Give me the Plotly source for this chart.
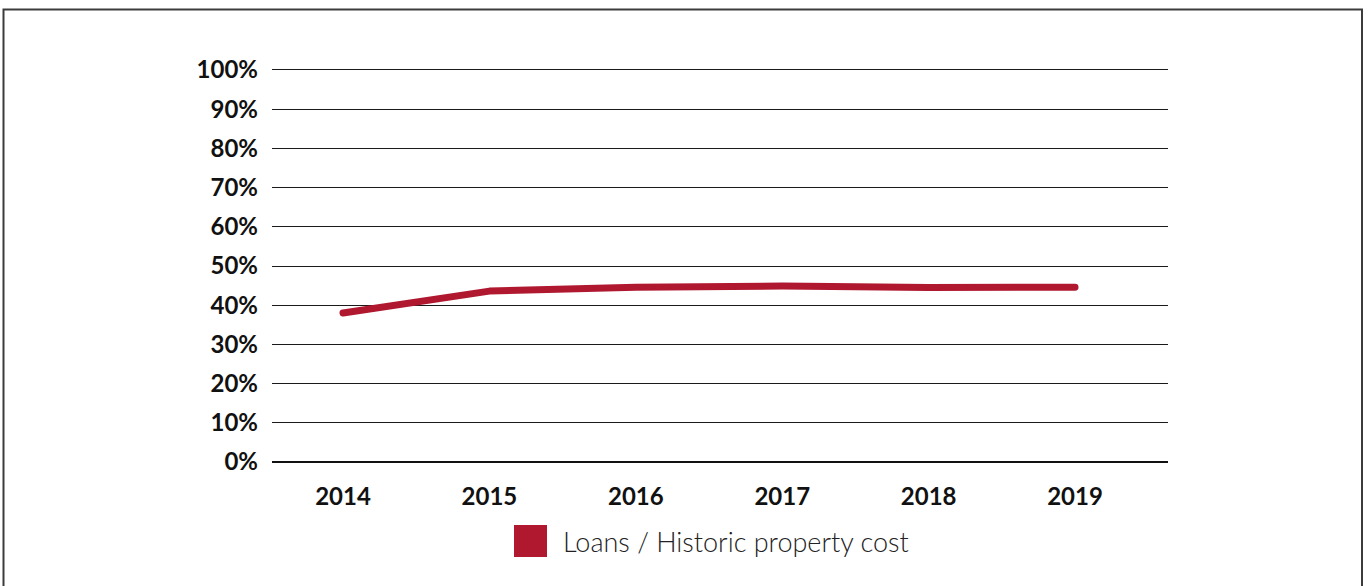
import plotly.graph_objects as go

# Loan-to-cost ratio by year
years = ["2014", "2015", "2016", "2017", "2018", "2019"]
loans_to_cost = [0.380, 0.436, 0.446, 0.449, 0.445, 0.446]
series_name = "Loans / Historic property cost"
y_ticks = [i / 10 for i in range(11)]
y_tick_labels = [f"{i * 10}%" for i in range(11)]

RED = "#B01830"
W, H = 1370, 586
PAD = 0.01                         # headroom so the 0% and 100% lines stay inside
UNIT = 392                         # pixels per 100%
L, R = 272, 202
T = 70 - PAD * UNIT
B = H - (462 + PAD * UNIT)
pw, ph = W - L - R, H - T - B


def px_x(x):
    return (x - L) / pw


def px_y(y):
    return 1 - (y - T) / ph


fig = go.Figure()
fig.add_trace(go.Scatter(
    x=years, y=loans_to_cost, mode="lines", name=series_name,
    line=dict(color=RED, width=7), showlegend=False, hoverinfo="skip",
))

tick_font = dict(family="Lato", size=24, color="#111111", weight="bold")

fig.update_layout(
    width=W, height=H,
    margin=dict(l=L, r=R, t=T, b=B),
    paper_bgcolor="white", plot_bgcolor="white",
    xaxis=dict(
        type="category", range=[-0.485, 5.635],
        showgrid=False, showline=False, zeroline=False, ticks="",
        tickfont=tick_font, ticklabelstandoff=14,
    ),
    yaxis=dict(
        range=[-PAD, 1 + PAD], tickvals=y_ticks, ticktext=y_tick_labels,
        showgrid=True, gridcolor="#1a1a1a", gridwidth=1,
        zeroline=True, zerolinecolor="#111111", zerolinewidth=1.5,
        showline=False, ticks="", tickfont=tick_font, ticklabelstandoff=13,
    ),
    shapes=[
        # outer frame
        dict(type="rect", xref="paper", yref="paper",
             x0=px_x(3.5), x1=px_x(1362), y0=px_y(620), y1=px_y(9.5),
             line=dict(color="#3c3c3c", width=2), fillcolor="rgba(0,0,0,0)",
             layer="below"),
        # legend swatch
        dict(type="rect", xref="paper", yref="paper",
             x0=px_x(514), x1=px_x(547), y0=px_y(557), y1=px_y(525),
             line=dict(width=0), fillcolor=RED),
    ],
    annotations=[
        dict(text=series_name, xref="paper", yref="paper",
             x=px_x(561), y=px_y(541), xanchor="left", yanchor="middle",
             showarrow=False,
             font=dict(family="Lato", size=27, color="#222222", weight=300)),
    ],
)

fig.write_html(
    "out.html",
    post_script="document.querySelectorAll('.scatterlayer .js-line')"
                ".forEach(function(p){p.style.strokeLinecap='round';"
                "p.style.strokeLinejoin='round';});",
)
